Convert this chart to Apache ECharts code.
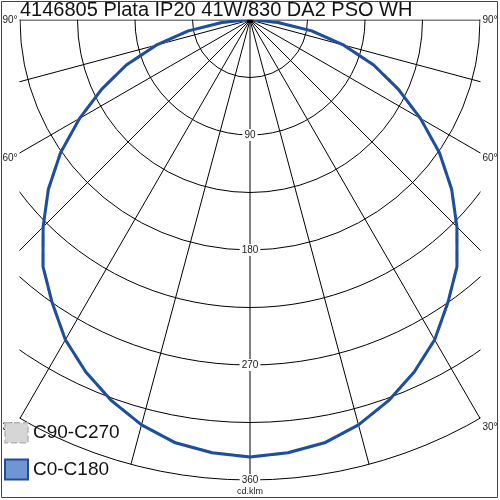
<!DOCTYPE html>
<html><head><meta charset="utf-8">
<script src="https://cdn.jsdelivr.net/npm/echarts@6/dist/echarts.min.js"></script>
<style>html,body{margin:0;padding:0;background:#fff}#c{width:500px;height:500px}</style>
</head><body><div id="c"></div>
<script>
const titleText = '4146805 Plata IP20 41W/830 DA2 PSO WH';
const gammas = [0,5,10,15,20,25,30,35,40,45,50,55,60,65,70,75,80,85,90];
const c0   = [342,340,336,328,317,304,289,270,252,229,206,181,154,128,103,76,49,22,4];
const c180 = [342,340,336,328,317,304,289,270,252,229,206,181,154,128,103,76,49,22,4];
const c90  = [342,340,336,328,317,304,289,270,252,229,206,181,154,128,103,76,49,22,4];
const c270 = [342,340,336,328,317,304,289,270,252,229,206,181,154,128,103,76,49,22,4];
const radiusTicks = [90,180,270,360];
const edgeAngles = [90,60,30];
const edgeLabels = ['90°','60°','30°'];
const unitLabel = 'cd.klm';
const seriesNames = ['C90-C270','C0-C180'];

const FONT = 'Liberation Sans, Arial, sans-serif';
const CX = 250, CY = 20, R = 460;

function curve(leftVals, rightVals){
  const d = [];
  for (let i = gammas.length-1; i >= 0; i--) d.push([leftVals[i], gammas[i]]);
  for (let i = 1; i < gammas.length; i++) d.push([rightVals[i], 360-gammas[i]]);
  return d;
}

const chart = echarts.init(document.getElementById('c'), null, {renderer:'canvas'});

const graphics = [
  {type:'rect', shape:{x:0,y:0,width:500,height:19.5}, style:{fill:'#fff'}, z:10, silent:true},
  {type:'rect', shape:{x:0,y:0,width:19.5,height:500}, style:{fill:'#fff'}, z:10, silent:true},
  {type:'rect', shape:{x:480.5,y:0,width:20,height:500}, style:{fill:'#fff'}, z:10, silent:true}
];
edgeAngles.forEach((a, i) => {
  const rad = a*Math.PI/180;
  const dy = Math.min(470*Math.cos(rad), 240*Math.cos(rad)/Math.sin(rad));
  [-1, 1].forEach(s => {
    graphics.push({type:'text', x: CX + s*240, y: CY + dy, z: 15, silent:true,
      style:{text: edgeLabels[i], fill:'#222', font:'10px '+FONT, textAlign:'center', textVerticalAlign:'middle'}});
  });
});
graphics.push({type:'text', x: CX, y: 492, z: 15, silent:true,
  style:{text: unitLabel, fill:'#222', font:'9px '+FONT, textAlign:'center', textVerticalAlign:'middle'}});
graphics.push({type:'rect', shape:{x:1.5,y:1.5,width:496,height:496}, style:{fill:'none', stroke:'#444', lineWidth:1}, z:30, silent:true});

chart.setOption({
  animation:false,
  title:{text:titleText, left:20, top:0, padding:0, z:20,
    textStyle:{fontSize:20, fontWeight:'normal', color:'#111', fontFamily:FONT}},
  legend:{orient:'vertical', left:4, top:422, padding:0, itemWidth:23, itemHeight:20, itemGap:15, z:20,
    selectedMode:false,
    textStyle:{fontSize:19, color:'#111', fontFamily:FONT},
    data:[
      {name:seriesNames[0], icon:'rect', itemStyle:{color:'#d6d6d6', borderColor:'#b4b4b4', borderWidth:1.5, borderType:'dashed'}},
      {name:seriesNames[1], icon:'rect', itemStyle:{color:'#7095d3', borderColor:'#1f4c9b', borderWidth:2}}
    ]},
  polar:{center:[CX, CY], radius:R},
  angleAxis:{type:'value', min:0, max:360, interval:15, startAngle:-90, clockwise:true, z:1,
    axisLine:{show:false}, axisTick:{show:false}, axisLabel:{show:false},
    splitLine:{show:true, lineStyle:{color:'#000', width:1}}},
  radiusAxis:{type:'value', min:0, max:360, interval:90, z:3,
    axisLine:{show:false}, axisTick:{show:false},
    minorTick:{show:false, splitNumber:2},
    minorSplitLine:{show:true, lineStyle:{color:'#000', width:1}},
    splitLine:{show:true, lineStyle:{color:'#000', width:1}},
    axisLabel:{showMinLabel:false, margin:0, align:'center', verticalAlign:'middle', fontSize:10, color:'#222',
      fontFamily:FONT, backgroundColor:'#fff', padding:[1,2],
      formatter: v => radiusTicks.includes(v) ? String(v) : ''}},
  graphic: graphics,
  series:[
    {name:seriesNames[0], type:'line', coordinateSystem:'polar', data:curve(c270, c90), symbol:'none', z:2,
      itemStyle:{color:'#d6d6d6'}, lineStyle:{color:'#c8c8c8', width:3, type:'dashed'}},
    {name:seriesNames[1], type:'line', coordinateSystem:'polar', data:curve(c180, c0), symbol:'none', z:3,
      itemStyle:{color:'#7095d3'}, lineStyle:{color:'#1d4f9e', width:3}}
  ]
});
</script></body></html>
